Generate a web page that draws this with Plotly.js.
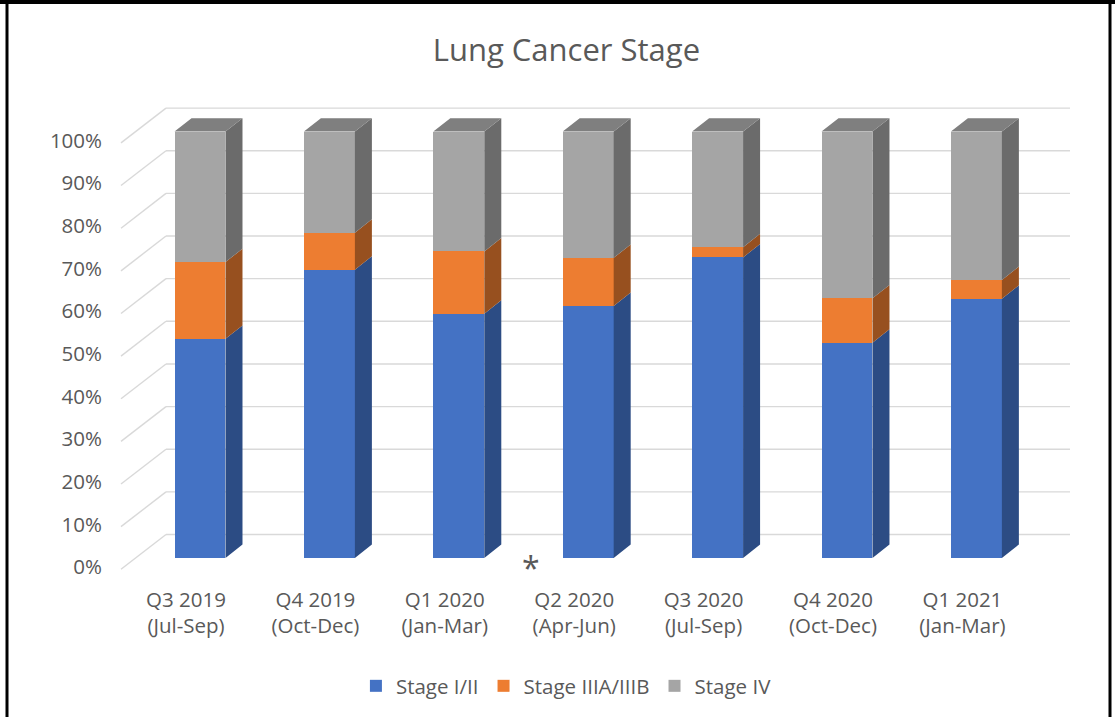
<!DOCTYPE html>
<html>
<head>
<meta charset="utf-8">
<script src="https://cdn.plot.ly/plotly-3.0.1.min.js"></script>
<style>
  html, body { margin: 0; padding: 0; background: #ffffff; }
  #chart { width: 1115px; height: 717px; }
</style>
</head>
<body>
<div id="chart"></div>
<script>
// ---- data (percent of cases per quarter) ----
const categories = [
  'Q3 2019<br>(Jul-Sep)', 'Q4 2019<br>(Oct-Dec)', 'Q1 2020<br>(Jan-Mar)',
  'Q2 2020<br>(Apr-Jun)', 'Q3 2020<br>(Jul-Sep)', 'Q4 2020<br>(Oct-Dec)',
  'Q1 2021<br>(Jan-Mar)'
];
const stageI_II   = [51.4, 67.6, 57.3, 59.1, 70.5, 50.5, 60.8];
const stageIIIAB  = [18.0,  8.7, 14.6, 11.3,  2.4, 10.4,  4.4];
const stageIV     = [30.6, 23.7, 28.1, 29.6, 27.1, 39.1, 34.8];
const seriesNames = ['Stage I/II', 'Stage IIIA/IIIB', 'Stage IV'];
const yTicks = [0, 10, 20, 30, 40, 50, 60, 70, 80, 90, 100];
const markedCategoryGap = 2.56; // asterisk between Q1 and Q2 2020

// ---- styling / geometry ----
const frontColors = ['#4472C4', '#ED7D31', '#A5A5A5'];
const sideColors  = ['#2C4C84', '#97501F', '#6B6B6B'];
const topColor    = '#7F7F7F';
const textColor   = '#595959';
const FONT = 'Open Sans, sans-serif';

const W = 1115, H = 717;
const M = {l: 108, r: 25, t: 90, b: 137};
const xRange = [-0.711, 6.878];
const yRange = [-5.16, 109.76];
const PX = (W - M.l - M.r) / (xRange[1] - xRange[0]);   // px per x unit
const PY = (H - M.t - M.b) / (yRange[1] - yRange[0]);   // px per y unit
const barW = 0.394;
const DX = 17 / PX, DY = 13.4 / PY;           // bar depth
const wallUp = 23.5 / PY;                     // back wall offset
const frontDown = 11.3 / PY;                  // floor front edge offset
const wallX0 = (166 - 200) / PX, wallX1 = (1070 - 200) / PX, edgeX = (121 - 200) / PX;

const xIdx = categories.map((_, i) => i);
const series = [stageI_II, stageIIIAB, stageIV];

const traces = [];
// front faces: stacked bars
series.forEach((vals, k) => {
  traces.push({
    type: 'bar', x: xIdx, y: vals, name: seriesNames[k], width: barW,
    marker: {color: frontColors[k], line: {width: 0}},
    hoverinfo: 'y+name'
  });
});
// side faces derived from the stacked values
series.forEach((vals, k) => {
  const xs = [], ys = [];
  xIdx.forEach(i => {
    let base = 0;
    for (let j = 0; j < k; j++) base += series[j][i];
    const top = base + vals[i];
    const xr = i + barW / 2;
    xs.push(xr, xr + DX, xr + DX, xr, xr, null);
    ys.push(base, base + DY, top + DY, top, base, null);
  });
  traces.push({
    type: 'scatter', mode: 'lines', x: xs, y: ys, fill: 'toself',
    fillcolor: sideColors[k], line: {width: 0, color: sideColors[k]},
    showlegend: false, hoverinfo: 'skip'
  });
});
// top faces
{
  const xs = [], ys = [];
  xIdx.forEach(i => {
    const total = stageI_II[i] + stageIIIAB[i] + stageIV[i];
    const xl = i - barW / 2, xr = i + barW / 2;
    xs.push(xl, xl + DX, xr + DX, xr, xl, null);
    ys.push(total, total + DY, total + DY, total, total, null);
  });
  traces.push({
    type: 'scatter', mode: 'lines', x: xs, y: ys, fill: 'toself',
    fillcolor: topColor, line: {width: 0, color: topColor},
    showlegend: false, hoverinfo: 'skip'
  });
}

// back-wall gridlines and floor diagonals
const shapes = [];
yTicks.forEach(v => {
  shapes.push({type: 'line', layer: 'below', xref: 'x', yref: 'y',
    x0: wallX0, x1: wallX1, y0: v + wallUp, y1: v + wallUp,
    line: {color: '#D9D9D9', width: 1.4}});
  shapes.push({type: 'line', layer: 'below', xref: 'x', yref: 'y',
    x0: edgeX, x1: wallX0, y0: v - frontDown, y1: v + wallUp,
    line: {color: '#D9D9D9', width: 1.4}});
});
// outer frame
const pxToPaperX = p => (p - M.l) / (W - M.l - M.r);
const pyToPaperY = p => (H - M.b - p) / (H - M.t - M.b);
shapes.push({type: 'line', xref: 'paper', yref: 'paper', layer: 'above',
  x0: pxToPaperX(0), x1: pxToPaperX(W), y0: pyToPaperY(2), y1: pyToPaperY(2),
  line: {color: '#000', width: 4}});
shapes.push({type: 'line', xref: 'paper', yref: 'paper', layer: 'above',
  x0: pxToPaperX(7), x1: pxToPaperX(7), y0: pyToPaperY(0), y1: pyToPaperY(H),
  line: {color: '#000', width: 3}});
shapes.push({type: 'line', xref: 'paper', yref: 'paper', layer: 'above',
  x0: pxToPaperX(1110), x1: pxToPaperX(1110), y0: pyToPaperY(0), y1: pyToPaperY(H),
  line: {color: '#000', width: 3}});

const layout = {
  width: W, height: H,
  margin: M,
  paper_bgcolor: '#ffffff', plot_bgcolor: 'rgba(0,0,0,0)',
  font: {family: FONT, color: textColor, size: 20},
  title: {text: 'Lung Cancer Stage', x: 0.508, xanchor: 'center',
          y: 1 - 50 / H, yanchor: 'middle',
          font: {family: FONT, size: 31, color: textColor}},
  barmode: 'stack',
  showlegend: true,
  legend: {orientation: 'h', x: 0.508, xanchor: 'center', xref: 'container',
           y: 1 - 686 / H, yanchor: 'middle', yref: 'container',
           font: {family: FONT, size: 20.5, color: textColor},
           traceorder: 'normal', itemwidth: 30},
  xaxis: {range: xRange, tickmode: 'array', tickvals: xIdx, ticktext: categories,
          showgrid: false, zeroline: false, showline: false, ticks: '',
          ticklabelshift: -14, ticklabelstandoff: 5,
          tickfont: {family: FONT, size: 20.5, color: textColor}, fixedrange: true},
  yaxis: {range: yRange, tickmode: 'array', tickvals: yTicks,
          ticktext: yTicks.map(v => v + '%'),
          showgrid: false, zeroline: false, showline: false, ticks: '',
          ticklabelshift: 9, ticklabelstandoff: 5,
          tickfont: {family: FONT, size: 20.5, color: textColor}, fixedrange: true},
  shapes: shapes,
  annotations: [{
    xref: 'x', yref: 'y', x: markedCategoryGap, y: -5.0, yshift: -11,
    text: '*', showarrow: false,
    font: {family: FONT, size: 32, color: textColor}, xanchor: 'center', yanchor: 'bottom',
    borderpad: 0
  }]
};

Plotly.newPlot('chart', traces, layout, {displayModeBar: false, staticPlot: true});
</script>
</body>
</html>
